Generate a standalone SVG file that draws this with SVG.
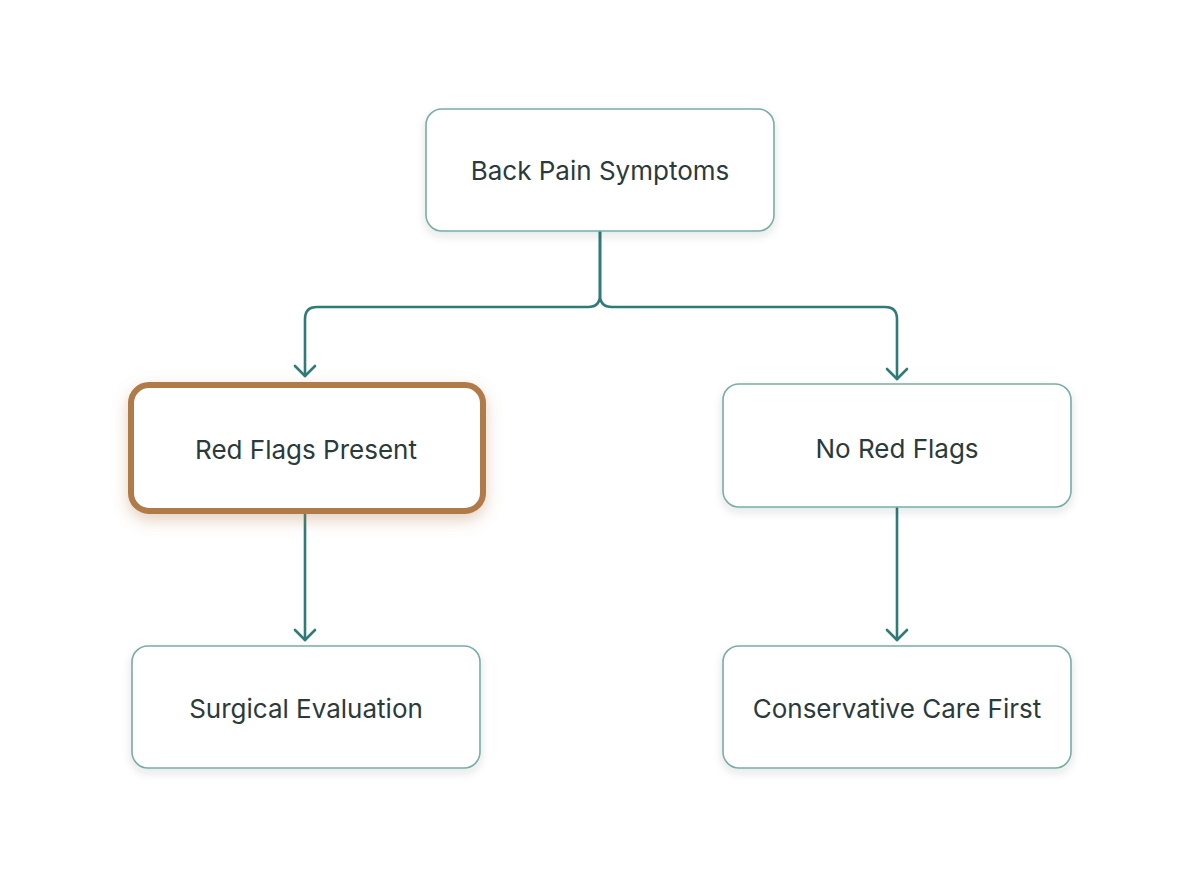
<svg xmlns="http://www.w3.org/2000/svg" width="1200" height="896" viewBox="0 0 1200 896">
<defs>
<filter id="sh" x="-20%" y="-30%" width="140%" height="170%">
<feDropShadow dx="0" dy="4" stdDeviation="5" flood-color="#1f3b3a" flood-opacity="0.12"/>
</filter>
<filter id="glow" x="-20%" y="-30%" width="140%" height="170%">
<feDropShadow dx="0" dy="6" stdDeviation="8" flood-color="#b07a48" flood-opacity="0.35"/>
</filter>
<marker id="arr" viewBox="0 0 14 24" refX="12" refY="12" markerWidth="14" markerHeight="24" markerUnits="userSpaceOnUse" orient="auto">
<path d="M2 2 L12 12 L2 22" fill="none" stroke="#2e7b79" stroke-width="2.6" stroke-linecap="round" stroke-linejoin="round"/>
</marker>
<style>
.node{fill:#ffffff;stroke:#7aaca6;stroke-width:1.6}
.hl{fill:#ffffff;stroke:#b07a48;stroke-width:6}
.lbl{font-family:Inter,"Noto Sans","Liberation Sans",sans-serif;font-size:26px;fill:#2b3a3a;text-anchor:middle;dominant-baseline:central}
.edge{fill:none;stroke:#2e7b79;stroke-width:2.6;stroke-linecap:round;stroke-linejoin:round}
</style>
</defs>
<rect width="1200" height="896" fill="#ffffff"/>
<g id="connectors">
<path class="edge" d="M600 232 V295 Q600 307 588 307 H317 Q305 307 305 319 V376" marker-end="url(#arr)"/>
<path class="edge" d="M600 232 V295 Q600 307 612 307 H885 Q897 307 897 319 V379" marker-end="url(#arr)"/>
<path class="edge" d="M305 514 V640" marker-end="url(#arr)"/>
<path class="edge" d="M897 508 V640" marker-end="url(#arr)"/>
</g>
<g id="n_back">
<rect class="node" x="426" y="109" width="348" height="122" rx="16" filter="url(#sh)"/>
<text class="lbl" x="600" y="170">Back Pain Symptoms</text>
</g>
<g id="n_red">
<rect class="hl" x="131" y="385" width="352" height="126" rx="18" filter="url(#glow)"/>
<text class="lbl" x="306" y="449">Red Flags Present</text>
</g>
<g id="n_nored">
<rect class="node" x="723" y="384" width="348" height="123" rx="16" filter="url(#sh)"/>
<text class="lbl" x="897" y="448">No Red Flags</text>
</g>
<g id="n_surg">
<rect class="node" x="132" y="646" width="348" height="122" rx="16" filter="url(#sh)"/>
<text class="lbl" x="306" y="708">Surgical Evaluation</text>
</g>
<g id="n_cons">
<rect class="node" x="723" y="646" width="348" height="122" rx="16" filter="url(#sh)"/>
<text class="lbl" x="897" y="708">Conservative Care First</text>
</g>
</svg>
